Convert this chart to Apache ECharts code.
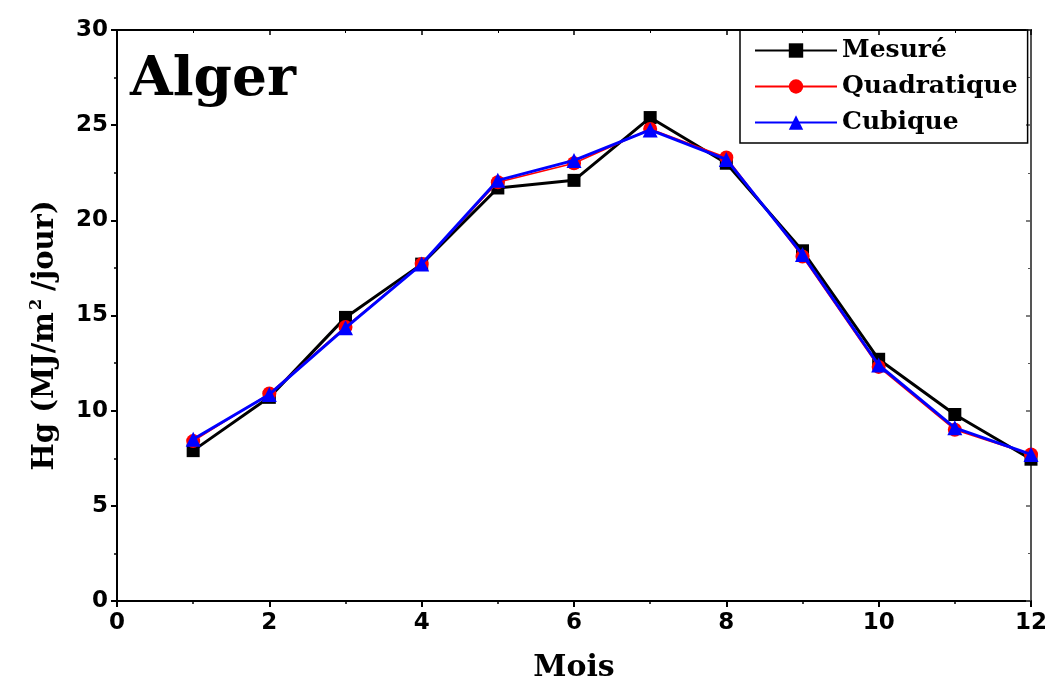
<!DOCTYPE html>
<html>
<head>
<meta charset="utf-8">
<script src="https://cdn.jsdelivr.net/npm/echarts@6/dist/echarts.min.js"></script>
<style>html,body{margin:0;padding:0;background:#fff}#c{width:1049px;height:681px}</style>
</head>
<body>
<div id="c"></div>
<script>
const months = [1,2,3,4,5,6,7,8,9,10,11,12];
const mesure = [7.9,10.7,14.9,17.7,21.7,22.1,25.4,23.0,18.4,12.7,9.8,7.45];
const quadratique = [8.4,10.9,14.4,17.7,22.0,23.0,24.8,23.3,18.1,12.3,9.0,7.7];
const cubique = [8.5,10.85,14.35,17.7,22.1,23.15,24.75,23.2,18.2,12.4,9.1,7.7];
const seriesNames = ['Mesuré','Quadratique','Cubique'];
const title = 'Alger';
const xName = 'Mois';

const pairs = arr => months.map((m,i)=>[m,arr[i]]);
const serif = 'DejaVu Serif';
const sans = 'DejaVu Sans';

const chart = echarts.init(document.getElementById('c'));
chart.setOption({
  animation:false,
  backgroundColor:'#fff',
  grid:{left:117,right:18,top:30,bottom:80,containLabel:false,outerBoundsMode:'none'},
  graphic:[{type:'text',left:130,top:53,style:{text:title,font:'bold 55px "DejaVu Serif"',fill:'#000'}}],
  legend:{
    orient:'vertical',left:740,top:30,
    borderColor:'#000',borderWidth:1.5,borderRadius:0,
    padding:[8,10,8,14],
    itemWidth:82,itemHeight:18,itemGap:11,
    textStyle:{fontFamily:serif,fontWeight:'bold',fontSize:25,color:'#000'},
    data:seriesNames
  },
  xAxis:[{
    type:'value',min:0,max:12,interval:2,
    name:xName,nameLocation:'middle',nameGap:52,
    nameTextStyle:{fontFamily:serif,fontWeight:'bold',fontSize:30,color:'#000'},
    axisLine:{show:true,onZero:false,lineStyle:{color:'#000',width:2}},
    axisTick:{show:true,length:6,lineStyle:{color:'#000',width:2}},
    minorTick:{show:true,splitNumber:2,length:3,lineStyle:{color:'#000',width:1.5}},
    axisLabel:{fontFamily:sans,fontWeight:'bold',fontSize:23,color:'#000',margin:11},
    splitLine:{show:false}
  },{
    type:'value',position:'top',min:0,max:12,interval:2,
    axisLine:{show:true,onZero:false,lineStyle:{color:'#000',width:2}},
    axisTick:{show:true,inside:true,length:5,lineStyle:{color:'#000',width:1.5}},
    minorTick:{show:true,splitNumber:2,length:3,lineStyle:{color:'#000'}},
    axisLabel:{show:false},splitLine:{show:false}
  }],
  yAxis:[{
    type:'value',min:0,max:30,interval:5,
    name:'Hg (MJ/m{sup|2}/jour)',nameLocation:'middle',nameGap:56,nameRotate:90,
    nameTextStyle:{fontFamily:serif,fontWeight:'bold',fontSize:29,color:'#000',padding:[0,40,0,0],
      rich:{sup:{fontFamily:serif,fontWeight:'bold',fontSize:16,color:'#000',verticalAlign:'top',padding:[0,8,16,2]}}},
    axisLine:{show:true,onZero:false,lineStyle:{color:'#000',width:2}},
    axisTick:{show:true,length:6,lineStyle:{color:'#000',width:2}},
    minorTick:{show:true,splitNumber:2,length:3,lineStyle:{color:'#000',width:1.5}},
    axisLabel:{fontFamily:sans,fontWeight:'bold',fontSize:23,color:'#000',margin:9},
    splitLine:{show:false}
  },{
    type:'value',position:'right',min:0,max:30,interval:5,
    axisLine:{show:true,onZero:false,lineStyle:{color:'#555',width:2}},
    axisTick:{show:true,inside:true,length:5,lineStyle:{color:'#555',width:1.5}},
    minorTick:{show:true,splitNumber:2,length:3,lineStyle:{color:'#555'}},
    axisLabel:{show:false},splitLine:{show:false}
  }],
  series:[
    {name:seriesNames[0],type:'line',data:pairs(mesure),symbol:'rect',symbolSize:13,
     itemStyle:{color:'#000'},lineStyle:{color:'#000',width:3},z:2},
    {name:seriesNames[1],type:'line',data:pairs(quadratique),symbol:'circle',symbolSize:14,
     itemStyle:{color:'#ff0000'},lineStyle:{color:'#ff0000',width:1.5},z:3},
    {name:seriesNames[2],type:'line',data:pairs(cubique),symbol:'triangle',symbolSize:15,
     itemStyle:{color:'#0000ff'},lineStyle:{color:'#0000ff',width:3},z:4}
  ]
});
</script>
</body>
</html>
